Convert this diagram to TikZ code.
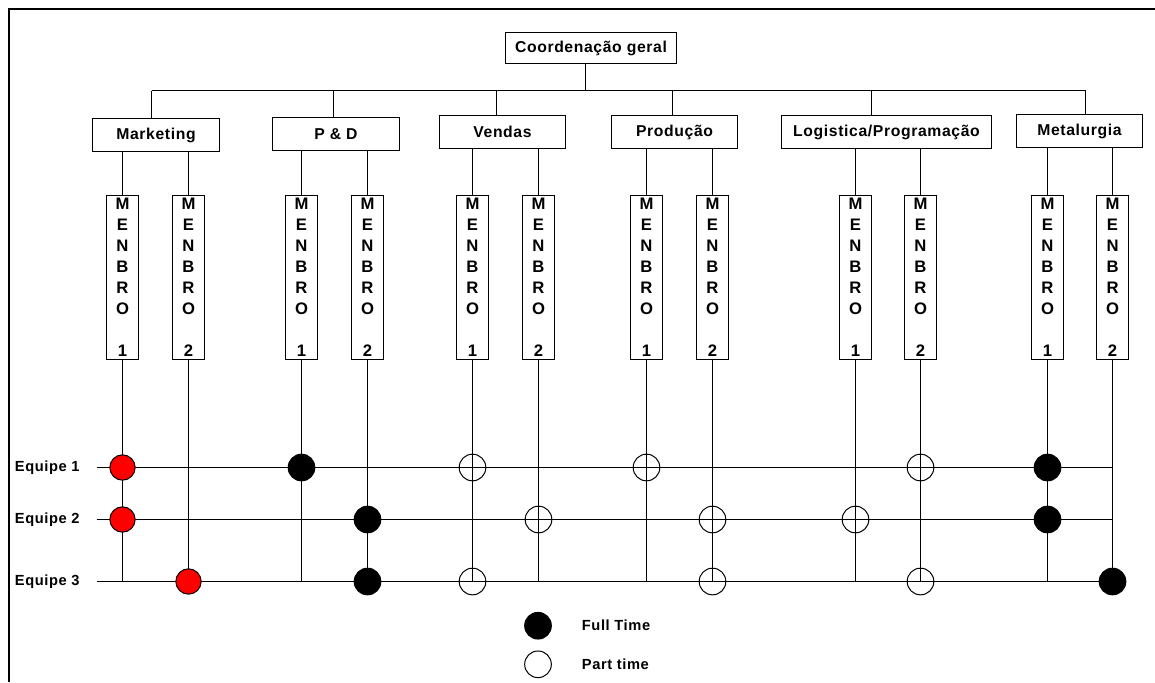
\documentclass[tikz,border=0pt]{standalone}
\usepackage{fontspec}
\setmainfont{Liberation Sans}
\begin{document}
\begin{tikzpicture}[x=0.75pt,y=-0.75pt,line width=0.75pt,
  txt/.style={font=\bfseries\fontsize{11.8}{13}\selectfont\addfontfeature{LetterSpace=4}},
  dept/.style={draw,fill=white,minimum height=24.75pt,inner sep=0pt,txt},
  memb/.style={draw,fill=white,minimum width=24pt,minimum height=123pt,inner sep=0pt,align=center,
    font=\bfseries\fontsize{12.5}{15.75}\selectfont},
  full/.style={circle,draw,fill=black,minimum size=20pt,inner sep=0pt},
  redd/.style={circle,draw,fill=red,minimum size=19pt,inner sep=0pt},
  part/.style={circle,draw,minimum size=20pt,inner sep=0pt},
  lab/.style={font=\bfseries\fontsize{11}{12}\selectfont\addfontfeature{LetterSpace=4}}]
\useasboundingbox (0,0) rectangle (1155,682);
% frame
\draw[line width=1.5pt] (9,682) -- (9,9) -- (1155,9);

% top and departments
\node[dept,minimum width=128.25pt,minimum height=23.25pt] (cg) at (591,48) {Coordenação geral};
\node[dept,minimum width=95.25pt] (mk) at (156,135) {Marketing};
\node[dept,minimum width=95.25pt] (pd) at (336,134) {P \& D};
\node[dept,minimum width=94.5pt] (vd) at (502.5,132) {Vendas};
\node[dept,minimum width=94.5pt] (pr) at (674.5,132) {Produção};
\node[dept,minimum width=157.5pt] (lg) at (886.5,132) {Logistica/Programação};
\node[dept,minimum width=94.5pt] (mt) at (1079.5,131) {Metalurgia};

\coordinate (cgd) at (585.5,90.5);
\coordinate (mkd) at (151.5,90.5);
\coordinate (pdd) at (333.5,90.5);
\coordinate (vdd) at (496.5,90.5);
\coordinate (prd) at (672.5,90.5);
\coordinate (lgd) at (871.5,90.5);
\coordinate (mtd) at (1085.5,90.5);
\draw (mkd) -- (mtd);
\draw (cgd) -- (cgd |- cg.south);
\foreach \d/\n in {mkd/mk,pdd/pd,vdd/vd,prd/pr,lgd/lg,mtd/mt}
  \draw (\d) -- (\d |- \n.north);

% members
\foreach \n/\x/\k in {mk1/122.5/1,mk2/188.5/2,pd1/301.5/1,pd2/367.5/2,vd1/472.5/1,vd2/538.5/2,
                     pr1/646.5/1,pr2/712.5/2,lg1/855.5/1,lg2/920.5/2,mt1/1047.5/1,mt2/1112.5/2}
  \node[memb] (\n) at (\x,277.5) {M\\E\\N\\B\\R\\O\\[15.75pt]\k};
\foreach \d/\n in {mk/mk1,mk/mk2,pd/pd1,pd/pd2,vd/vd1,vd/vd2,pr/pr1,pr/pr2,lg/lg1,lg/lg2,mt/mt1,mt/mt2}
  \draw (\n.north) -- (\n.north |- \d.south);

% teams
\node[lab,anchor=west] (e1) at (10,467.5) {Equipe 1};
\node[lab,anchor=west] (e2) at (10,519.5) {Equipe 2};
\node[lab,anchor=west] (e3) at (10,581.5) {Equipe 3};
\coordinate (l1) at (96.5,467.5);
\coordinate (l2) at (96.5,519.5);
\coordinate (l3) at (96.5,581.5);
\foreach \l in {l1,l2,l3}
  \draw (\l) -- (\l -| mt2.south);
\foreach \n in {mk1,mk2,pd1,pd2,vd1,vd2,pr1,pr2,lg1,lg2,mt1,mt2}
  \draw (\n.south) -- (\n.south |- l3);

% dots
\node[redd] (a1) at (mk1.south |- l1) {};
\node[redd] (a2) at (mk1.south |- l2) {};
\node[redd] (a3) at (mk2.south |- l3) {};
\node[full] (b1) at (pd1.south |- l1) {};
\node[full] (b2) at (pd2.south |- l2) {};
\node[full] (b3) at (pd2.south |- l3) {};
\node[part] (c1) at (vd1.south |- l1) {};
\node[part] (c2) at (vd1.south |- l3) {};
\node[part] (c3) at (vd2.south |- l2) {};
\node[part] (d1) at (pr1.south |- l1) {};
\node[part] (d2) at (pr2.south |- l2) {};
\node[part] (d3) at (pr2.south |- l3) {};
\node[part] (f1) at (lg1.south |- l2) {};
\node[part] (f2) at (lg2.south |- l1) {};
\node[part] (f3) at (lg2.south |- l3) {};
\node[full] (g1) at (mt1.south |- l1) {};
\node[full] (g2) at (mt1.south |- l2) {};
\node[full] (g3) at (mt2.south |- l3) {};

% legend
\node[full] (kf) at (538,625.7) {};
\node[part] (kp) at (538,664.3) {};
\node[lab,anchor=west] (tf) at (577,625.7) {Full Time};
\node[lab,anchor=west] (tp) at (577,664.3) {Part time};
\end{tikzpicture}
\end{document}
